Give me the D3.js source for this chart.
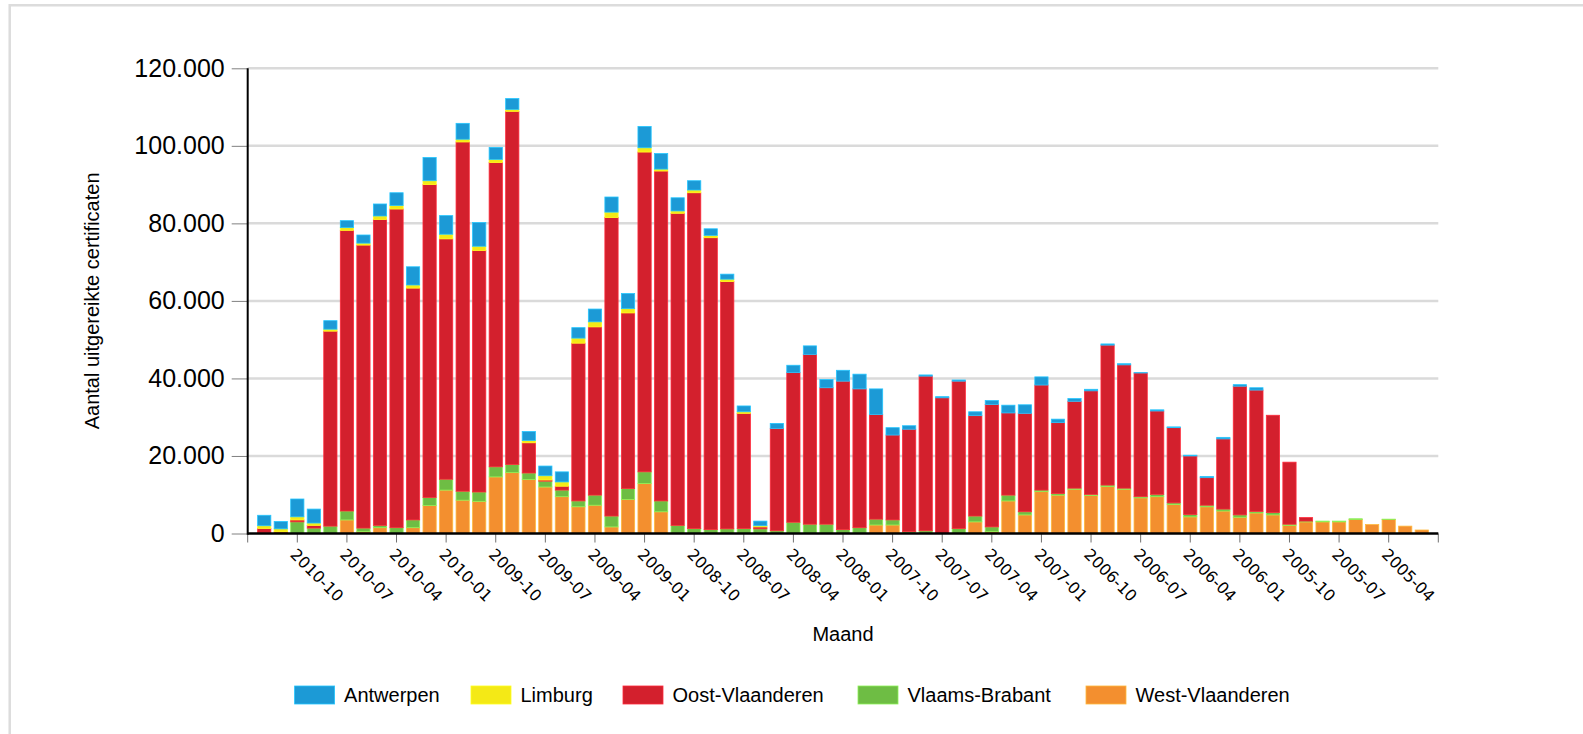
<!DOCTYPE html>
<html>
<head>
<meta charset="utf-8">
<script src="https://cdn.jsdelivr.net/npm/d3@7"></script>
<style>
body { margin: 0; background: #fff; }
text { font-family: "Liberation Sans", Arial, sans-serif; fill: #000; }
</style>
</head>
<body>
<svg id="chart"></svg>
<script>
// months, newest first (as in the original chart)
var months = ["2010-12","2010-11","2010-10","2010-09","2010-08","2010-07","2010-06","2010-05","2010-04","2010-03","2010-02","2010-01",
    "2009-12","2009-11","2009-10","2009-09","2009-08","2009-07","2009-06","2009-05","2009-04","2009-03","2009-02","2009-01",
    "2008-12","2008-11","2008-10","2008-09","2008-08","2008-07","2008-06","2008-05","2008-04","2008-03","2008-02","2008-01",
    "2007-12","2007-11","2007-10","2007-09","2007-08","2007-07","2007-06","2007-05","2007-04","2007-03","2007-02","2007-01",
    "2006-12","2006-11","2006-10","2006-09","2006-08","2006-07","2006-06","2006-05","2006-04","2006-03","2006-02","2006-01",
    "2005-12","2005-11","2005-10","2005-09","2005-08","2005-07","2005-06","2005-05","2005-04","2005-03","2005-02"];

var tickLabels = ["2010-10","2010-07","2010-04","2010-01","2009-10","2009-07","2009-04","2009-01",
    "2008-10","2008-07","2008-04","2008-01","2007-10","2007-07","2007-04","2007-01",
    "2006-10","2006-07","2006-04","2006-01","2005-10","2005-07","2005-04"];

var yTicks = [0, 20000, 40000, 60000, 80000, 100000, 120000];

var antwerpen = [2700,1900,4600,3600,2200,1800,2100,3100,3300,4700,
    6000,4800,4100,6100,3100,2800,2300,2500,2600,2700,
    3300,3900,3900,5500,4000,3400,2400,1700,1300,1500,
    1200,1300,1900,2200,2100,2800,3800,6600,1900,900,
    300,300,300,1000,1000,2000,2200,2100,900,700,
    400,300,300,100,300,200,200,300,400,400,
    600,0,0,0,0,0,0,0,0,0,
    0];

var limburg = [700,800,800,600,500,700,500,900,900,800,
    1000,1200,700,1100,800,500,600,1100,1100,1300,
    1300,1400,1100,1100,500,600,700,600,600,400,
    300,0,0,0,0,0,0,0,0,0,
    0,0,0,0,0,0,0,0,0,0,
    0,0,0,0,0,0,0,0,0,0,
    0,0,0,0,0,0,0,0,0,0,
    0];

var oostVl = [1100,400,500,700,50300,72400,73000,78900,82200,59800,
    80700,62000,90100,62300,78500,91100,7800,300,1000,40700,
    43400,77000,45300,82500,85100,80500,86600,75300,63800,29700,
    500,26400,38600,43800,35200,38300,35800,27000,21900,26400,
    39900,35000,38000,25900,31600,21200,25400,27100,18300,22400,
    26700,36100,31800,31900,21500,19400,15100,7100,18100,33200,
    31300,25100,16000,900,0,0,0,0,0,0,
    0];

var vlBrabant = [200,0,3000,1400,1900,2300,900,600,1500,2000,
    2100,2800,2300,2400,2600,2100,1700,1500,1700,1500,
    2600,2800,2800,3000,2800,2100,1300,1000,1200,1300,
    1200,700,2900,2400,2400,1000,1500,1500,1300,500,
    700,0,1300,1500,1200,1500,800,400,400,300,
    300,400,300,300,600,400,600,400,500,600,
    400,600,300,200,200,200,200,0,100,0,
    0];

var westVl = [0,0,0,0,0,3500,500,1500,0,1500,
    7200,11200,8600,8300,14600,15700,13900,12000,9500,6900,
    7300,1700,8800,12900,5600,0,0,0,0,0,
    0,0,0,0,0,0,0,2200,2200,0,
    0,0,0,3000,500,8400,4800,10800,9900,11400,
    9800,12100,11400,9200,9500,7500,4300,6900,5800,4200,
    5300,4800,2100,3000,3000,3000,3600,2300,3600,1900,
    900];

var seriesNames = ["Antwerpen", "Limburg", "Oost-Vlaanderen", "Vlaams-Brabant", "West-Vlaanderen"];
var seriesValues = [antwerpen, limburg, oostVl, vlBrabant, westVl];
var seriesColors = ["#1c9ad6", "#f4e916", "#d3202d", "#6ebd44", "#f38f2f"];

var width = 1583
var height = 734

var svg = d3.select("#chart")
    .attr("width", width)
    .attr("height", height);

// light frame round the chart
svg.append("path")
    .attr("d", "M9.7," + height + "V5.3H" + width)
    .attr("fill", "none")
    .attr("stroke", "#dcdcdc")
    .attr("stroke-width", 2.5);

var rows = months.map(function(m, i) {
    var row = {month: m};
    seriesNames.forEach(function(name, k) { row[name] = seriesValues[k][i]; });
    return row;
});

var xScale = d3.scaleBand()
    .domain(months)
    .range([247.7, 1438.3])
    .paddingInner(0.2)
    .paddingOuter(0.6);

var yScale = d3.scaleLinear()
    .domain([0, 120000])
    .range([533.5, 68.3]);

var color = d3.scaleOrdinal().domain(seriesNames).range(seriesColors);

// gridlines
svg.append("g")
    .selectAll("line")
    .data(yTicks.slice(1))
    .enter()
    .append("line")
    .attr("x1", xScale.range()[0])
    .attr("x2", xScale.range()[1])
    .attr("y1", function(d) { return yScale(d); })
    .attr("y2", function(d) { return yScale(d); })
    .attr("stroke", "#dadada")
    .attr("stroke-width", 2.5);

// stacked bars, West-Vlaanderen at the bottom
var stack = d3.stack().keys(seriesNames.slice().reverse());
var layers = svg.append("g")
    .selectAll("g")
    .data(stack(rows))
    .enter()
    .append("g")
    .attr("fill", function(d) { return color(d.key); })
    .attr("stroke", function(d) { return d3.color(color(d.key)).brighter(0.7); })
    .attr("stroke-width", 0.8);

layers.selectAll("rect")
    .data(function(d) { return d.filter(function(p) { return p[1] > p[0]; }); })
    .enter()
    .append("rect")
    .attr("x", function(p) { return xScale(p.data.month); })
    .attr("width", xScale.bandwidth())
    .attr("y", function(p) { return yScale(p[1]); })
    .attr("height", function(p) { return yScale(p[0]) - yScale(p[1]); });

// y axis
var nl = d3.formatLocale({decimal: ",", thousands: ".", grouping: [3], currency: ["€", ""]});
var yAxis = d3.axisLeft(yScale)
    .tickValues(yTicks)
    .tickFormat(nl.format(","))
    .tickSize(16)
    .tickPadding(7);

var yg = svg.append("g")
    .attr("transform", "translate(" + xScale.range()[0] + ",0)")
    .call(yAxis);
yg.select(".domain").remove();
yg.selectAll(".tick line").attr("stroke", "#808080");
yg.selectAll(".tick text")
    .style("font-family", "'Liberation Sans', Arial, sans-serif")
    .style("font-size", "25px")
    .attr("fill", "#000");

// x axis
var xAxis = d3.axisBottom(xScale)
    .tickValues(tickLabels)
    .tickSize(9)
    .tickSizeOuter(0);

var xg = svg.append("g")
    .attr("transform", "translate(0," + yScale(0) + ")")
    .call(xAxis);
xg.select(".domain").remove();
xg.selectAll(".tick line").attr("stroke", "#707070");
xg.selectAll(".tick text")
    .style("font-family", "'DejaVu Sans', Verdana, sans-serif")
    .style("font-size", "16px")
    .attr("fill", "#000")
    .attr("text-anchor", "start")
    .attr("x", 0)
    .attr("y", 0)
    .attr("dy", 0)
    .attr("transform", "translate(-8,22) rotate(45)");

// end ticks of the x axis
xg.selectAll(".endtick")
    .data(xScale.range())
    .enter()
    .append("line")
    .attr("x1", function(d) { return d; })
    .attr("x2", function(d) { return d; })
    .attr("y1", 0)
    .attr("y2", 9)
    .attr("stroke", "#707070");

// axis lines
svg.append("line")
    .attr("x1", xScale.range()[0])
    .attr("x2", xScale.range()[1])
    .attr("y1", yScale(0))
    .attr("y2", yScale(0))
    .attr("stroke", "#000")
    .attr("stroke-width", 2.5);
svg.append("line")
    .attr("x1", xScale.range()[0])
    .attr("x2", xScale.range()[0])
    .attr("y1", yScale(0) + 1.2)
    .attr("y2", yScale(120000))
    .attr("stroke", "#000")
    .attr("stroke-width", 2);

// axis titles
svg.append("text")
    .attr("transform", "translate(99," + yScale(60000) + ") rotate(-90)")
    .attr("text-anchor", "middle")
    .style("font-size", "20px")
    .text("Aantal uitgereikte certificaten");

svg.append("text")
    .attr("x", (xScale.range()[0] + xScale.range()[1]) / 2)
    .attr("y", 641)
    .attr("text-anchor", "middle")
    .style("font-size", "20px")
    .text("Maand");

// legend
var legendX = [294.6, 471, 623, 858, 1086];
seriesNames.forEach(function(name, i) {
    var item = svg.append("g").attr("transform", "translate(" + legendX[i] + ",686)");
    item.append("rect")
        .attr("width", 40)
        .attr("height", 18)
        .attr("fill", color(name))
        .attr("stroke", d3.color(color(name)).brighter(0.7))
        .attr("stroke-width", 0.8);
    item.append("text")
        .attr("x", 49.5)
        .attr("y", 16)
        .style("font-size", "20px")
        .text(name);
});
</script>
</body>
</html>
